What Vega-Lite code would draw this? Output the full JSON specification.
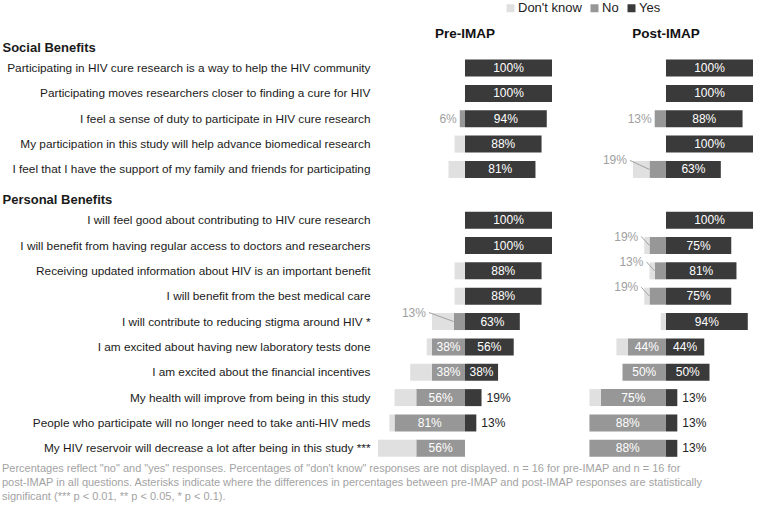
{
  "$schema": "https://vega.github.io/schema/vega-lite/v6.json",
  "padding": {"left": 2, "right": 0, "top": 1, "bottom": 0},
  "config": {"view": {"stroke": null}, "font": "Liberation Sans"},
  "title": {
    "text": [
      "Percentages reflect \"no\" and \"yes\" responses. Percentages of \"don't know\" responses are not displayed. n = 16 for pre-IMAP and n = 16 for",
      "post-IMAP in all questions. Asterisks indicate where the differences in percentages between pre-IMAP and post-IMAP responses are statistically",
      "significant (*** p < 0.01, ** p < 0.05, * p < 0.1)."
    ],
    "orient": "bottom", "anchor": "start", "frame": "bounds",
    "fontSize": 11, "fontWeight": "normal", "color": "#a3a3a3", "lineHeight": 14, "offset": 2, "font": "Liberation Sans"
  },
  "data": {"values": [
    {"period": "Pre-IMAP", "q": "Participating in HIV cure research is a way to help the HIV community", "r": "Yes", "v": 100},
    {"period": "Post-IMAP", "q": "Participating in HIV cure research is a way to help the HIV community", "r": "Yes", "v": 100},
    {"period": "Pre-IMAP", "q": "Participating moves researchers closer to finding a cure for HIV", "r": "Yes", "v": 100},
    {"period": "Post-IMAP", "q": "Participating moves researchers closer to finding a cure for HIV", "r": "Yes", "v": 100},
    {"period": "Pre-IMAP", "q": "I feel a sense of duty to participate in HIV cure research", "r": "Yes", "v": 94},
    {"period": "Pre-IMAP", "q": "I feel a sense of duty to participate in HIV cure research", "r": "No", "v": 6},
    {"period": "Post-IMAP", "q": "I feel a sense of duty to participate in HIV cure research", "r": "Yes", "v": 88},
    {"period": "Post-IMAP", "q": "I feel a sense of duty to participate in HIV cure research", "r": "No", "v": 13},
    {"period": "Pre-IMAP", "q": "My participation in this study will help advance biomedical research", "r": "Yes", "v": 88},
    {"period": "Pre-IMAP", "q": "My participation in this study will help advance biomedical research", "r": "Don't know", "v": 12},
    {"period": "Post-IMAP", "q": "My participation in this study will help advance biomedical research", "r": "Yes", "v": 100},
    {"period": "Pre-IMAP", "q": "I feel that I have the support of my family and friends for participating", "r": "Yes", "v": 81},
    {"period": "Pre-IMAP", "q": "I feel that I have the support of my family and friends for participating", "r": "Don't know", "v": 19},
    {"period": "Post-IMAP", "q": "I feel that I have the support of my family and friends for participating", "r": "Yes", "v": 63},
    {"period": "Post-IMAP", "q": "I feel that I have the support of my family and friends for participating", "r": "No", "v": 19},
    {"period": "Post-IMAP", "q": "I feel that I have the support of my family and friends for participating", "r": "Don't know", "v": 19},
    {"period": "Pre-IMAP", "q": "I will feel good about contributing to HIV cure research", "r": "Yes", "v": 100},
    {"period": "Post-IMAP", "q": "I will feel good about contributing to HIV cure research", "r": "Yes", "v": 100},
    {"period": "Pre-IMAP", "q": "I will benefit from having regular access to doctors and researchers", "r": "Yes", "v": 100},
    {"period": "Post-IMAP", "q": "I will benefit from having regular access to doctors and researchers", "r": "Yes", "v": 75},
    {"period": "Post-IMAP", "q": "I will benefit from having regular access to doctors and researchers", "r": "No", "v": 19},
    {"period": "Post-IMAP", "q": "I will benefit from having regular access to doctors and researchers", "r": "Don't know", "v": 6},
    {"period": "Pre-IMAP", "q": "Receiving updated information about HIV is an important benefit", "r": "Yes", "v": 88},
    {"period": "Pre-IMAP", "q": "Receiving updated information about HIV is an important benefit", "r": "Don't know", "v": 12},
    {"period": "Post-IMAP", "q": "Receiving updated information about HIV is an important benefit", "r": "Yes", "v": 81},
    {"period": "Post-IMAP", "q": "Receiving updated information about HIV is an important benefit", "r": "No", "v": 13},
    {"period": "Post-IMAP", "q": "Receiving updated information about HIV is an important benefit", "r": "Don't know", "v": 6},
    {"period": "Pre-IMAP", "q": "I will benefit from the best medical care", "r": "Yes", "v": 88},
    {"period": "Pre-IMAP", "q": "I will benefit from the best medical care", "r": "Don't know", "v": 12},
    {"period": "Post-IMAP", "q": "I will benefit from the best medical care", "r": "Yes", "v": 75},
    {"period": "Post-IMAP", "q": "I will benefit from the best medical care", "r": "No", "v": 19},
    {"period": "Post-IMAP", "q": "I will benefit from the best medical care", "r": "Don't know", "v": 6},
    {"period": "Pre-IMAP", "q": "I will contribute to reducing stigma around HIV *", "r": "Yes", "v": 63},
    {"period": "Pre-IMAP", "q": "I will contribute to reducing stigma around HIV *", "r": "No", "v": 13},
    {"period": "Pre-IMAP", "q": "I will contribute to reducing stigma around HIV *", "r": "Don't know", "v": 25},
    {"period": "Post-IMAP", "q": "I will contribute to reducing stigma around HIV *", "r": "Yes", "v": 94},
    {"period": "Post-IMAP", "q": "I will contribute to reducing stigma around HIV *", "r": "Don't know", "v": 6},
    {"period": "Pre-IMAP", "q": "I am excited about having new laboratory tests done", "r": "Yes", "v": 56},
    {"period": "Pre-IMAP", "q": "I am excited about having new laboratory tests done", "r": "No", "v": 38},
    {"period": "Pre-IMAP", "q": "I am excited about having new laboratory tests done", "r": "Don't know", "v": 6},
    {"period": "Post-IMAP", "q": "I am excited about having new laboratory tests done", "r": "Yes", "v": 44},
    {"period": "Post-IMAP", "q": "I am excited about having new laboratory tests done", "r": "No", "v": 44},
    {"period": "Post-IMAP", "q": "I am excited about having new laboratory tests done", "r": "Don't know", "v": 13},
    {"period": "Pre-IMAP", "q": "I am excited about the financial incentives", "r": "Yes", "v": 38},
    {"period": "Pre-IMAP", "q": "I am excited about the financial incentives", "r": "No", "v": 38},
    {"period": "Pre-IMAP", "q": "I am excited about the financial incentives", "r": "Don't know", "v": 25},
    {"period": "Post-IMAP", "q": "I am excited about the financial incentives", "r": "Yes", "v": 50},
    {"period": "Post-IMAP", "q": "I am excited about the financial incentives", "r": "No", "v": 50},
    {"period": "Pre-IMAP", "q": "My health will improve from being in this study", "r": "Yes", "v": 19},
    {"period": "Pre-IMAP", "q": "My health will improve from being in this study", "r": "No", "v": 56},
    {"period": "Pre-IMAP", "q": "My health will improve from being in this study", "r": "Don't know", "v": 25},
    {"period": "Post-IMAP", "q": "My health will improve from being in this study", "r": "Yes", "v": 13},
    {"period": "Post-IMAP", "q": "My health will improve from being in this study", "r": "No", "v": 75},
    {"period": "Post-IMAP", "q": "My health will improve from being in this study", "r": "Don't know", "v": 13},
    {"period": "Pre-IMAP", "q": "People who participate will no longer need to take anti-HIV meds", "r": "Yes", "v": 13},
    {"period": "Pre-IMAP", "q": "People who participate will no longer need to take anti-HIV meds", "r": "No", "v": 81},
    {"period": "Pre-IMAP", "q": "People who participate will no longer need to take anti-HIV meds", "r": "Don't know", "v": 6},
    {"period": "Post-IMAP", "q": "People who participate will no longer need to take anti-HIV meds", "r": "Yes", "v": 13},
    {"period": "Post-IMAP", "q": "People who participate will no longer need to take anti-HIV meds", "r": "No", "v": 88},
    {"period": "Pre-IMAP", "q": "My HIV reservoir will decrease a lot after being in this study ***", "r": "No", "v": 56},
    {"period": "Pre-IMAP", "q": "My HIV reservoir will decrease a lot after being in this study ***", "r": "Don't know", "v": 44},
    {"period": "Post-IMAP", "q": "My HIV reservoir will decrease a lot after being in this study ***", "r": "Yes", "v": 13},
    {"period": "Post-IMAP", "q": "My HIV reservoir will decrease a lot after being in this study ***", "r": "No", "v": 88}
  ]},
  "transform": [
    {"calculate": "datum.r === 'Yes' ? datum.v : -datum.v", "as": "signed"},
    {"calculate": "datum.r === 'Yes' ? 0 : (datum.r === 'No' ? 1 : 2)", "as": "ord"},
    {"calculate": "datum.v + '%'", "as": "label"},
    {"stack": "signed", "groupby": ["period", "q"], "sort": [{"field": "ord", "order": "ascending"}], "as": ["x0", "x1"]},
    {"joinaggregate": [{"op": "min", "field": "x1", "as": "left"}], "groupby": ["period", "q"]},
    {"calculate": "(datum.x0 + datum.x1) / 2", "as": "mid"}
  ],
  "facet": {
    "column": {
      "field": "period", "sort": ["Pre-IMAP", "Post-IMAP"],
      "header": {"title": null, "labelFontSize": 13.5, "labelFontWeight": "bold", "labelFont": "Liberation Sans", "labelColor": "#111", "labelPadding": -10}
    }
  },
  "spacing": 27,
  "spec": {
    "width": 174,
    "height": 431,
    "encoding": {
      "y": {
        "field": "q", "type": "nominal",
        "scale": {
          "domain": [
            "Social Benefits",
            "Participating in HIV cure research is a way to help the HIV community",
            "Participating moves researchers closer to finding a cure for HIV",
            "I feel a sense of duty to participate in HIV cure research",
            "My participation in this study will help advance biomedical research",
            "I feel that I have the support of my family and friends for participating",
            "Personal Benefits",
            "I will feel good about contributing to HIV cure research",
            "I will benefit from having regular access to doctors and researchers",
            "Receiving updated information about HIV is an important benefit",
            "I will benefit from the best medical care",
            "I will contribute to reducing stigma around HIV *",
            "I am excited about having new laboratory tests done",
            "I am excited about the financial incentives",
            "My health will improve from being in this study",
            "People who participate will no longer need to take anti-HIV meds",
            "My HIV reservoir will decrease a lot after being in this study ***"
          ],
          "paddingInner": 0.33, "paddingOuter": 0.165
        },
        "axis": {
          "title": null, "domain": false, "ticks": false, "labelLimit": 0,
          "labelColor": "#1a1a1a",
          "labelFont": "Liberation Sans",
          "labelFontSize": {"condition": {"test": "datum.value === 'Social Benefits' || datum.value === 'Personal Benefits'", "value": 13}, "value": 11.8},
          "labelFontWeight": {"condition": {"test": "datum.value === 'Social Benefits' || datum.value === 'Personal Benefits'", "value": "bold"}, "value": "normal"},
          "labelAlign": {"condition": {"test": "datum.value === 'Social Benefits' || datum.value === 'Personal Benefits'", "value": "left"}, "value": "right"},
          "labelPadding": {"condition": {"test": "datum.value === 'Social Benefits' || datum.value === 'Personal Benefits'", "value": 376}, "value": 8},
          "labelOffset": {"condition": {"test": "datum.value === 'Social Benefits' || datum.value === 'Personal Benefits'", "value": 5}, "value": 0}
        }
      }
    },
    "layer": [
      {
        "mark": {"type": "bar"},
        "encoding": {
          "x": {"field": "x0", "type": "quantitative", "scale": {"domain": [-100, 100]}, "axis": null},
          "x2": {"field": "x1"},
          "color": {
            "field": "r", "type": "nominal",
            "scale": {"domain": ["Don't know", "No", "Yes"], "range": ["#e0e0e0", "#979797", "#3a3a3a"]},
            "legend": {
              "title": null, "orient": "none", "direction": "horizontal", "legendX": 126, "legendY": -28.5,
              "symbolType": "square", "symbolSize": 64, "symbolStrokeWidth": 0,
              "labelFontSize": 13, "labelFont": "Liberation Sans", "labelColor": "#222", "labelOffset": 1, "columnPadding": 6
            }
          }
        }
      },
      {
        "transform": [{"filter": "datum.v >= 30 && datum.r !== \"Don't know\""}],
        "mark": {"type": "text", "fontSize": 12, "color": "white", "baseline": "middle"},
        "encoding": {
          "x": {"field": "mid", "type": "quantitative"},
          "text": {"field": "label"}
        }
      },
      {
        "transform": [{"filter": "datum.r === 'Yes' && datum.v < 30"}],
        "mark": {"type": "text", "fontSize": 12, "color": "#222", "align": "left", "dx": 5, "baseline": "middle"},
        "encoding": {
          "x": {"field": "x1", "type": "quantitative"},
          "text": {"field": "label"}
        }
      },
      {
        "transform": [{"filter": "datum.r === 'No' && datum.v < 30 && datum.left > datum.x1 - 0.5"}],
        "mark": {"type": "text", "fontSize": 12, "color": "#a0a0a0", "align": "right", "dx": -3, "baseline": "middle"},
        "encoding": {
          "x": {"field": "x1", "type": "quantitative"},
          "text": {"field": "label"}
        }
      },
      {
        "transform": [{"filter": "datum.r === 'No' && datum.v < 30 && datum.left < datum.x1 - 0.5"}],
        "mark": {"type": "text", "fontSize": 12, "color": "#a0a0a0", "align": "right", "dx": -6, "dy": -9, "baseline": "middle"},
        "encoding": {
          "x": {"field": "left", "type": "quantitative"},
          "text": {"field": "label"}
        }
      },
      {
        "transform": [{"filter": "datum.r === 'No' && datum.v < 30 && datum.left < datum.x1 - 0.5"}],
        "mark": {"type": "rule", "color": "#a0a0a0", "strokeWidth": 1, "yOffset": -9, "xOffset": -3},
        "encoding": {
          "x": {"field": "left", "type": "quantitative"},
          "x2": {"field": "x1"},
          "y": {"field": "q", "type": "nominal", "bandPosition": 0.5},
          "y2": {"field": "q", "bandPosition": 0.5}
        }
      }
    ]
  }
}
